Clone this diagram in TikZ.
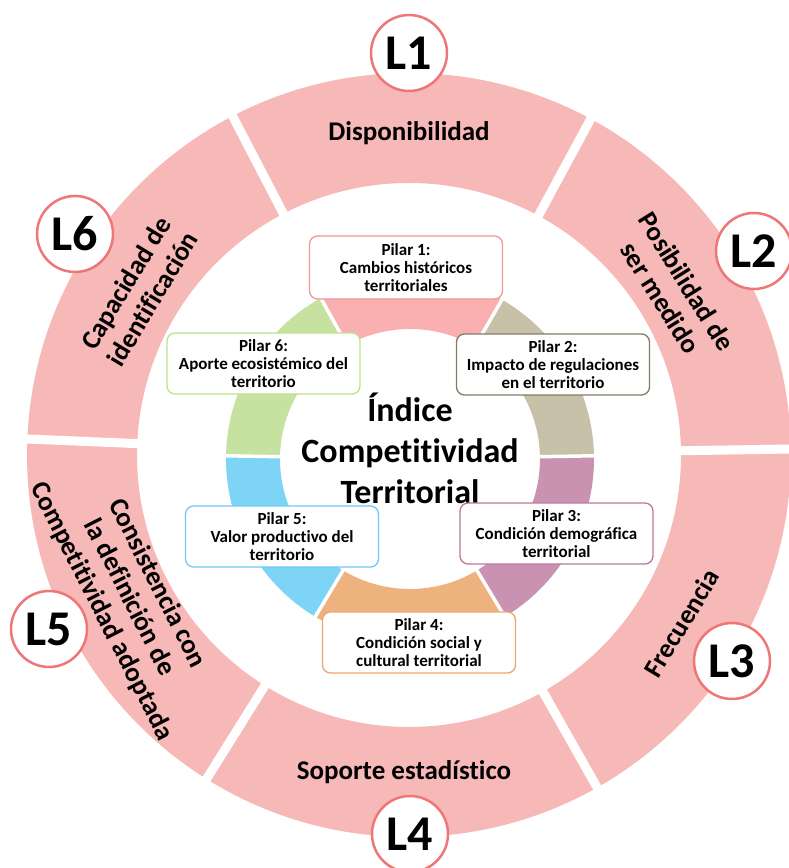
\documentclass[tikz,border=0pt]{standalone}
\usepackage{fontspec}
\setmainfont{Carlito}[Ligatures=NoCommon]
\usetikzlibrary{calc}
\definecolor{ringpink}{RGB}{247,184,184}
\definecolor{lborder}{RGB}{238,118,118}
\definecolor{pinkseg}{RGB}{250,176,176}
\definecolor{khakiseg}{RGB}{198,193,168}
\definecolor{mauveseg}{RGB}{200,146,176}
\definecolor{orangeseg}{RGB}{238,178,126}
\definecolor{blueseg}{RGB}{126,212,245}
\definecolor{greenseg}{RGB}{198,225,160}
\definecolor{pinkline}{RGB}{244,150,150}
\definecolor{khakiline}{RGB}{128,124,104}
\definecolor{mauveline}{RGB}{188,118,158}
\definecolor{orangeline}{RGB}{240,165,110}
\definecolor{blueline}{RGB}{110,202,240}
\definecolor{greenline}{RGB}{190,225,140}
\begin{document}
\begin{tikzpicture}[x=1pt,y=1pt,
  lcirc/.style={circle,draw=lborder,line width=2.5pt,fill=white,minimum size=76pt,inner sep=0pt,font=\fontsize{50}{50}\selectfont\bfseries},
  pilar/.style={draw=#1,rounded corners=8pt,fill=white,line width=1.3pt,minimum width=193pt,minimum height=61pt,align=center,inner sep=2pt,font=\fontsize{17}{18}\selectfont\bfseries},
  segtext/.style={align=center,font=\fontsize{27}{31}\selectfont\bfseries}]
\useasboundingbox (0,0) rectangle (788,868);
\coordinate (C) at (409,413);
\coordinate (c) at (410,409);
% outer ring
\fill[ringpink,even odd rule] (C) circle[radius=382] (C) circle[radius=272];
\foreach \a in {0.9,61.6,117.5,177.6,238,299.5}
  \draw[white,line width=9pt] ($(C)+(\a:262)$) -- ($(C)+(\a:392)$);
% inner ring
\foreach \a/\b/\col in {1/60/khakiseg,60/119/pinkseg,119/179/greenseg,179/239/blueseg,239/301/orangeseg,301/361/mauveseg}
  \fill[\col] ($(c)+(\a:130)$) arc[start angle=\a,end angle=\b,radius=130] -- ($(c)+(\b:184)$) arc[start angle=\b,end angle=\a,radius=184] -- cycle;
\foreach \a in {1,60,119,179,239,301}
  \draw[white,line width=3.5pt] ($(c)+(\a:125)$) -- ($(c)+(\a:189)$);
% texts in the outer ring
\node[segtext] (T1) at (409,735) {Disponibilidad};
\node[segtext,rotate=-58] (T2) at ($(C)+(32:312)$) {Posibilidad de\\ser medido};
\node[segtext,rotate=59] (T3) at ($(C)+(-31.6:320)$) {Frecuencia};
\node[segtext] (T4) at (404,96) {Soporte estadístico};
\node[segtext,rotate=-63] (T5) at ($(C)+(207:314)$) {Consistencia con\\la definición de\\Competitividad adoptada};
\node[segtext,rotate=59] (T6) at ($(C)+(148.7:316)$) {Capacidad de\\identificación};
% centre
\node[align=center,font=\fontsize{34}{41}\selectfont\bfseries] (ICT) at (410,420) {Índice\\Competitividad\\Territorial};
% pillars
\node[pilar=pinkline,minimum height=63pt] (P1) at (406,600.5) {Pilar 1:\\Cambios históricos\\territoriales};
\node[pilar=khakiline] (P2) at (553,503.5) {Pilar 2:\\Impacto de regulaciones\\en el territorio};
\node[pilar=mauveline] (P3) at (556.5,334.5) {Pilar 3:\\Condición demográfica\\territorial};
\node[pilar=orangeline] (P4) at (419,225.5) {Pilar 4:\\Condición social y\\cultural territorial};
\node[pilar=blueline] (P5) at (282,331.5) {Pilar 5:\\Valor productivo del\\territorio};
\node[pilar=greenline] (P6) at (263.5,504.5) {Pilar 6:\\Aporte ecosistémico del\\territorio};
% levels
\node[lcirc] (L1) at (409,815) {L1};
\node[lcirc] (L2) at (754,617) {L2};
\node[lcirc] (L3) at (732,207) {L3};
\node[lcirc] (L4) at (410,34) {L4};
\node[lcirc] (L5) at (49,239) {L5};
\node[lcirc] (L6) at (75,634) {L6};
\end{tikzpicture}
\end{document}
